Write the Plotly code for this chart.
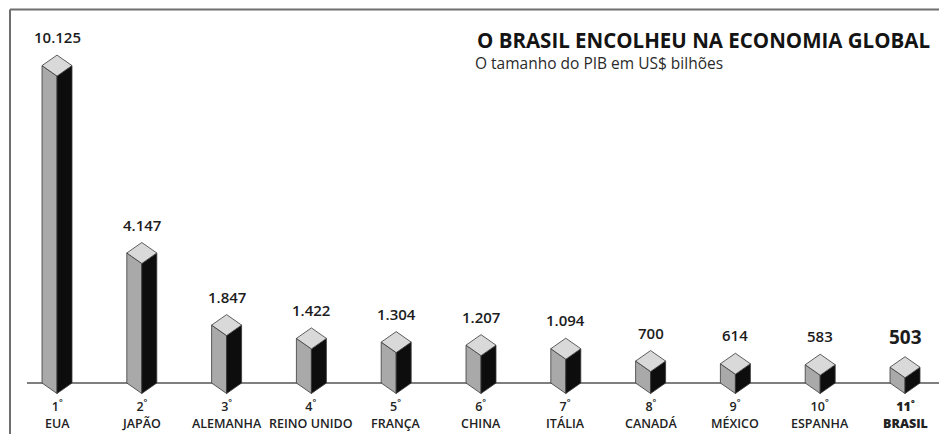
import plotly.graph_objects as go

# ---------------- data ----------------
categories = ["EUA", "JAPÃO", "ALEMANHA", "REINO UNIDO", "FRANÇA", "CHINA",
              "ITÁLIA", "CANADÁ", "MÉXICO", "ESPANHA", "BRASIL"]
ranks = [1, 2, 3, 4, 5, 6, 7, 8, 9, 10, 11]
gdp = [10125, 4147, 1847, 1422, 1304, 1207, 1094, 700, 614, 583, 503]
value_labels = ["10.125", "4.147", "1.847", "1.422", "1.304", "1.207",
                "1.094", "700", "614", "583", "503"]
highlight = "BRASIL"

title = "O BRASIL ENCOLHEU NA ECONOMIA GLOBAL"
subtitle = "O tamanho do PIB em US$ bilhões"

# ---------------- layout geometry (style) ----------------
W, H = 939, 434
PX_X0 = 57.0        # pixel centre of first bar
PX_STEP = 84.8      # pixel distance between bars
PX_BASE = 383.0     # pixel y of the baseline
K = 31.9            # value units per pixel (vertical)
HALF_W_PX = 15.0
DEPTH_PX = 10.5

xr = [(0 - PX_X0) / PX_STEP, (W - PX_X0) / PX_STEP]
yr = [-(H - PX_BASE) * K, PX_BASE * K]
w = HALF_W_PX / PX_STEP
d = DEPTH_PX * K

FONT = "Open Sans"
LEFT_C, RIGHT_C, TOP_C, EDGE_C = "#a9a9a9", "#0d0d0d", "#d9d9d9", "#3a3a3a"

fig = go.Figure()


def face(xs, ys, color):
    fig.add_trace(go.Scatter(
        x=xs + [xs[0]], y=ys + [ys[0]], mode="lines", fill="toself",
        fillcolor=color, line=dict(color=EDGE_C, width=0.8),
        hoverinfo="skip", showlegend=False))


for i, v in enumerate(gdp):
    face([i - w, i, i, i - w], [0, -d, v - d, v], LEFT_C)
    face([i, i + w, i + w, i], [-d, 0, v, v - d], RIGHT_C)
    face([i - w, i, i + w, i], [v, v - d, v, v + d], TOP_C)

annotations = []
for i, (v, lab, cat, r) in enumerate(zip(gdp, value_labels, categories, ranks)):
    hl = cat == highlight
    annotations.append(dict(
        x=i, y=v + d, xref="x", yref="y", text=lab,
        showarrow=False, yanchor="bottom", yshift=6 if not hl else 5,
        font=dict(family=FONT, size=19 if hl else 15, color="#1c1c1c",
                  weight=700 if hl else 600)))
    annotations.append(dict(
        x=i, y=1 - 414.5 / H, xref="x", yref="paper",
        text=f"{r}<sup>°</sup><br>{cat}",
        showarrow=False, yanchor="middle",
        font=dict(family=FONT, size=12.5, color="#222222",
                  weight=800 if hl else 600)))

annotations.append(dict(
    x=475 / W, y=1 - 40 / H, xref="paper", yref="paper",
    text=title, showarrow=False, xanchor="left", yanchor="middle",
    font=dict(family=FONT, size=20.5, color="#141414", weight=700)))
annotations.append(dict(
    x=473 / W, y=1 - 62.5 / H, xref="paper", yref="paper",
    text=subtitle, showarrow=False, xanchor="left", yanchor="middle",
    font=dict(family=FONT, size=15.5, color="#2a2a2a")))

shapes = [
    # frame (top and left)
    dict(type="line", xref="paper", yref="paper", x0=10 / W, y0=0,
         x1=10 / W, y1=1 - 9.5 / H, line=dict(color="#6e6e6e", width=2)),
    dict(type="line", xref="paper", yref="paper", x0=10 / W, y0=1 - 9.5 / H,
         x1=1, y1=1 - 9.5 / H, line=dict(color="#6e6e6e", width=2)),
    # baseline
    dict(type="line", xref="paper", yref="y", x0=27 / W, y0=0, x1=1, y1=0,
         layer="below", line=dict(color="#555555", width=1.5)),
]

fig.update_layout(
    width=W, height=H, margin=dict(l=0, r=0, t=0, b=0),
    paper_bgcolor="white", plot_bgcolor="white",
    xaxis=dict(range=xr, visible=False, fixedrange=True),
    yaxis=dict(range=yr, visible=False, fixedrange=True),
    annotations=annotations, shapes=shapes, showlegend=False,
)

fig.write_html(
    "out.html",
    config={"displayModeBar": False},
    post_script="document.body.style.margin='0';document.body.style.padding='0';"
                "document.body.style.overflow='hidden';",
)
